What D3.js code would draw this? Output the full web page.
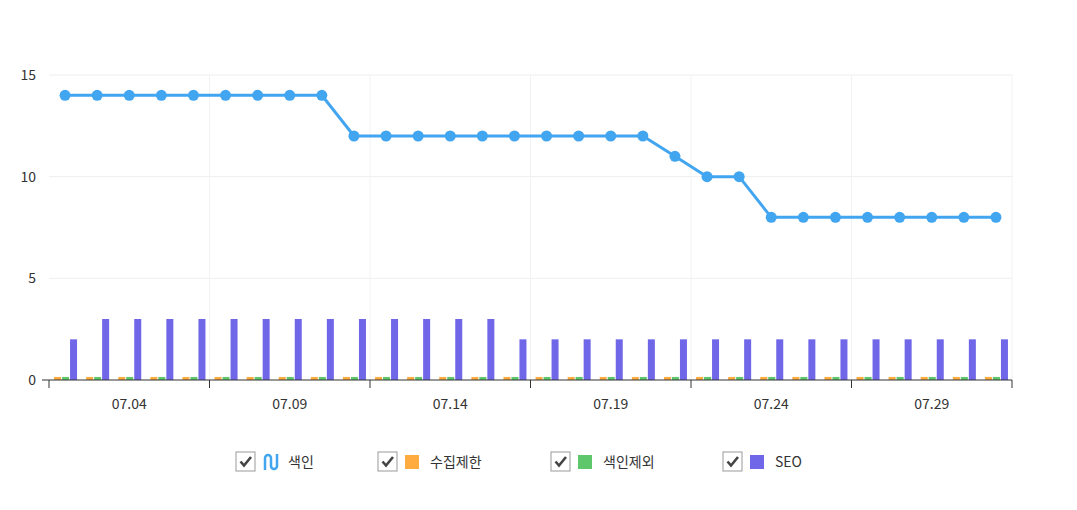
<!DOCTYPE html>
<html><head><meta charset="utf-8">
<script src="https://cdn.jsdelivr.net/npm/d3@7"></script>
<style>body{margin:0;background:#fff;font-family:"Noto Sans CJK KR","Noto Sans",sans-serif;}</style>
</head><body><svg id="c"></svg>
<script>
const days = d3.range(2, 32).map((d) => `07.${String(d).padStart(2, '0')}`);
const indexed = [14,14,14,14,14,14,14,14,14,12,12,12,12,12,12,12,12,12,12,11,10,10,8,8,8,8,8,8,8,8];
const crawlLimited = days.map(() => 0.15);
const excluded = days.map(() => 0.15);
const seo = [2,3,3,3,3,3,3,3,3,3,3,3,3,3,2,2,2,2,2,2,2,2,2,2,2,2,2,2,2,2];
const tickLabels = ['07.04','07.09','07.14','07.19','07.24','07.29'];
const yTicks = [0, 5, 10, 15];

const W = 1077, H = 510, L = 49, R = 1012, T = 75, B = 380;
const svg = d3.select('#c').attr('width', W).attr('height', H);
const x = d3.scaleBand().domain(days).range([L, R]);
const y = d3.scaleLinear().domain([0, 15]).range([B, T]);
const colors = { line: '#42a5f0', orange: '#ffab40', green: '#5ec76b', purple: '#7066e8' };

// grid
svg.append('g').selectAll('line').data(yTicks.slice(1)).join('line')
  .attr('x1', L).attr('x2', R).attr('y1', (d) => y(d)).attr('y2', (d) => y(d))
  .attr('stroke', '#eeeeee');
svg.append('g').selectAll('line').data(d3.range(1, 7)).join('line')
  .attr('x1', (i) => L + i * 5 * x.step()).attr('x2', (i) => L + i * 5 * x.step())
  .attr('y1', T).attr('y2', B).attr('stroke', '#f2f2f2');

// y labels
svg.append('g').selectAll('text').data(yTicks).join('text')
  .attr('x', 36).attr('y', (d) => y(d) + 5).attr('text-anchor', 'end')
  .attr('font-size', 14).attr('fill', '#333').text((d) => d);
svg.append('line').attr('x1', 42).attr('x2', L).attr('y1', B).attr('y2', B).attr('stroke', '#333');

// bars
const bw = 8;
const series = [[crawlLimited, colors.orange], [excluded, colors.green], [seo, colors.purple]];
series.forEach(([vals, col], k) => {
  svg.append('g').selectAll('rect').data(vals).join('rect')
    .attr('x', (d, i) => x(days[i]) + x.bandwidth() / 2 - 11 + k * bw)
    .attr('width', bw - 1)
    .attr('y', (d) => y(d)).attr('height', (d) => B - y(d))
    .attr('fill', col);
});

// x axis
const xa = svg.append('g');
xa.append('line').attr('x1', L).attr('x2', R).attr('y1', B).attr('y2', B).attr('stroke', '#333');
xa.selectAll('.t').data(d3.range(0, 7)).join('line')
  .attr('x1', (i) => L + i * 5 * x.step()).attr('x2', (i) => L + i * 5 * x.step())
  .attr('y1', B).attr('y2', B + 8).attr('stroke', '#333');
xa.selectAll('text').data(tickLabels).join('text')
  .attr('x', (d) => x(d) + x.bandwidth() / 2).attr('y', B + 29).attr('text-anchor', 'middle')
  .attr('font-size', 14).attr('fill', '#333').text((d) => d);

// line
const cx = (i) => x(days[i]) + x.bandwidth() / 2;
svg.append('path').datum(indexed)
  .attr('d', d3.line().x((d, i) => cx(i)).y((d) => y(d)))
  .attr('fill', 'none').attr('stroke', colors.line).attr('stroke-width', 3);
svg.append('g').selectAll('circle').data(indexed).join('circle')
  .attr('cx', (d, i) => cx(i)).attr('cy', (d) => y(d)).attr('r', 5.5).attr('fill', colors.line);

// legend
const legend = [
  { name: '색인', x: 236, col: colors.line, wave: true },
  { name: '수집제한', x: 378, col: colors.orange },
  { name: '색인제외', x: 551, col: colors.green },
  { name: 'SEO', x: 723, col: colors.purple },
];
const lg = svg.append('g').selectAll('g').data(legend).join('g')
  .attr('transform', (d) => `translate(${d.x},452)`);
lg.append('rect').attr('width', 19).attr('height', 19).attr('fill', '#fff').attr('stroke', '#999');
lg.append('path').attr('d', 'M4.5,9.5 L8,13.5 L15,5').attr('fill', 'none').attr('stroke', '#444').attr('stroke-width', 2.6);
lg.filter((d) => !d.wave).append('rect').attr('x', 27).attr('y', 3).attr('width', 14).attr('height', 14).attr('fill', (d) => d.col);
lg.filter((d) => d.wave).append('path')
  .attr('d', 'M29,18 V6 a3,3 0 0 1 6,0 V14 a3,3 0 0 0 6,0 V2')
  .attr('fill', 'none').attr('stroke', (d) => d.col).attr('stroke-width', 2.5);
lg.append('text').attr('x', (d) => d.wave ? 52 : 52).attr('y', 15)
  .attr('font-size', 14).attr('fill', '#333').text((d) => d.name);
</script></body></html>
